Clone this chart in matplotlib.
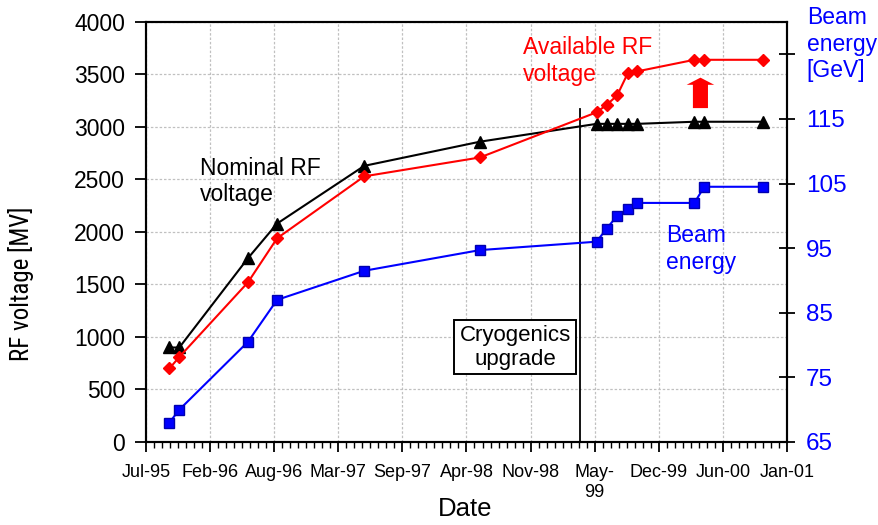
import matplotlib
matplotlib.use('Agg')
import matplotlib.pyplot as plt
import matplotlib.dates as mdates
from matplotlib import font_manager
from matplotlib.patches import FancyArrow
import numpy as np

dates = ['1995-10-01', '1995-11-01', '1996-06-02', '1996-09-01', '1997-05-31',
         '1998-05-27', '1999-05-26', '1999-06-26', '1999-07-29', '1999-08-31',
         '1999-09-30', '2000-03-26', '2000-04-26', '2000-10-26']
nominal_rf = [900, 900, 1750, 2080, 2630, 2860, 3030, 3030, 3030, 3030, 3030,
              3050, 3050, 3050]
available_rf = [700, 810, 1520, 1940, 2530, 2710, 3140, 3210, 3300, 3510, 3530,
                3640, 3640, 3640]
beam_energy = [68, 70, 80.5, 87, 91.5, 94.7, 96, 98, 100, 101, 102, 102, 104.5, 104.5]

xtick_labels = ['Jul-95', 'Feb-96', 'Aug-96', 'Mar-97', 'Sep-97', 'Apr-98',
                'Nov-98', 'May-\n99', 'Dec-99', 'Jun-00', 'Jan-01']
x_start = '1995-07-20'
x_step = 200      # days between date ticks (excel major unit)
left_ticks = [0, 500, 1000, 1500, 2000, 2500, 3000, 3500, 4000]
right_ticks = [65, 75, 85, 95, 105, 115, 125]
right_labels = ['65', '75', '85', '95', '105', '115', '']

cryo_date = '1999-04-04'
cryo_top = 3170
arrow_date = '2000-04-14'
arrow_from, arrow_to = 3180, 3470

names = set(f.name for f in font_manager.fontManager.ttflist)
ARIAL = 'Liberation Sans' if 'Liberation Sans' in names else 'DejaVu Sans'
NARROW = None
for n in ['Liberation Sans Narrow', 'Arial Narrow', 'Roboto Condensed',
          'Open Sans Condensed', 'DejaVu Sans Condensed']:
    if n in names:
        NARROW = n
        break
if NARROW is None:
    for n in sorted(names):
        if 'Narrow' in n or 'Condensed' in n:
            NARROW = n
            break
plt.rcParams['font.family'] = [ARIAL, 'DejaVu Sans']

x = mdates.datestr2num(dates)
x0 = mdates.datestr2num(x_start)

fig = plt.figure(figsize=(8.79, 5.25), dpi=100)
ax = fig.add_axes([0.1661, 0.1581, 0.7292, 0.8])
ax2 = ax.twinx()

ax.set_xlim(x0, x0 + 10 * x_step)
ax.set_ylim(0, 4000)
ax2.set_ylim(65, 130)

ax.set_axisbelow(True)
ax.grid(True, color='#c0c0c0', linestyle=(0, (2, 1.5)), linewidth=0.9)

ax.plot(x, nominal_rf, color='black', lw=1.5, marker='^', ms=8, zorder=3)
ax.plot(x, available_rf, color='red', lw=1.5, marker='D', ms=6.3, zorder=4)
ax2.plot(x, beam_energy, color='#0000ff', lw=1.5, marker='s', ms=6.8,
         mec='#0000b0', mew=1.0)

# cryogenics upgrade marker
xc = mdates.datestr2num(cryo_date)
ax.plot([xc, xc], [0, cryo_top], color='black', lw=1.3)

# red arrow showing the voltage margin
xa = mdates.datestr2num(arrow_date)
ax.add_patch(FancyArrow(xa, arrow_from, 0, arrow_to - arrow_from, width=47,
                        head_width=86, head_length=68, length_includes_head=True,
                        color='red', lw=0))

# x axis
ax.set_xticks([x0 + x_step * k for k in range(11)])
ax.set_xticklabels(xtick_labels, fontsize=13, linespacing=1.2)
ax.set_xticks(np.arange(x0, x0 + 10 * x_step + 1, 25), minor=True)
ax.tick_params(axis='x', which='major', direction='out', length=7, width=1.3, pad=9)
ax.tick_params(axis='x', which='minor', direction='out', length=4, width=1.0)

ax.set_yticks(left_ticks)
ax.set_yticklabels([str(v) for v in left_ticks], fontsize=16.5)
ax.tick_params(axis='y', direction='out', length=8, width=1.3, pad=7)

ax2.set_yticks(right_ticks)
ax2.set_yticklabels(right_labels, fontsize=17.5, color='#0000ff')
ax2.tick_params(axis='y', direction='inout', length=11, width=1.3, pad=8)

for a in (ax, ax2):
    for s in a.spines.values():
        s.set_linewidth(1.5)
        s.set_color('black')

ax.set_xlabel('Date', fontsize=18.5)
if NARROW:
    ax.set_ylabel('RF voltage [MV]', fontsize=18, family=NARROW)
else:
    ax.set_ylabel('RF voltage [MV]', fontsize=14.5)
ax.xaxis.set_label_coords(0.498, -0.13)
ax.yaxis.set_label_coords(-0.175, 0.376)

# in-plot labels
ax.text(0.0842, 0.621, 'Nominal RF\nvoltage', transform=ax.transAxes,
        fontsize=16.5, color='black', va='center', ha='left', linespacing=1.18)
ax.text(0.588, 0.907, 'Available RF\nvoltage', transform=ax.transAxes,
        fontsize=16.5, color='red', va='center', ha='left', linespacing=1.18)
ax.text(0.812, 0.4595, 'Beam\nenergy', transform=ax.transAxes,
        fontsize=16.5, color='#0000ff', va='center', ha='left', linespacing=1.18)
ax.text(0.5757, 0.226, 'Cryogenics\nupgrade', transform=ax.transAxes,
        fontsize=16, color='black', va='center', ha='center', linespacing=1.18,
        bbox=dict(boxstyle='square,pad=0.22', fc='white', ec='black', lw=1.4))
ax.text(1.031, 0.9476, 'Beam\nenergy\n[GeV]', transform=ax.transAxes,
        fontsize=16.5, color='#0000ff', va='center', ha='left', linespacing=1.22,
        clip_on=False)

fig.savefig('out.png', dpi=100)
